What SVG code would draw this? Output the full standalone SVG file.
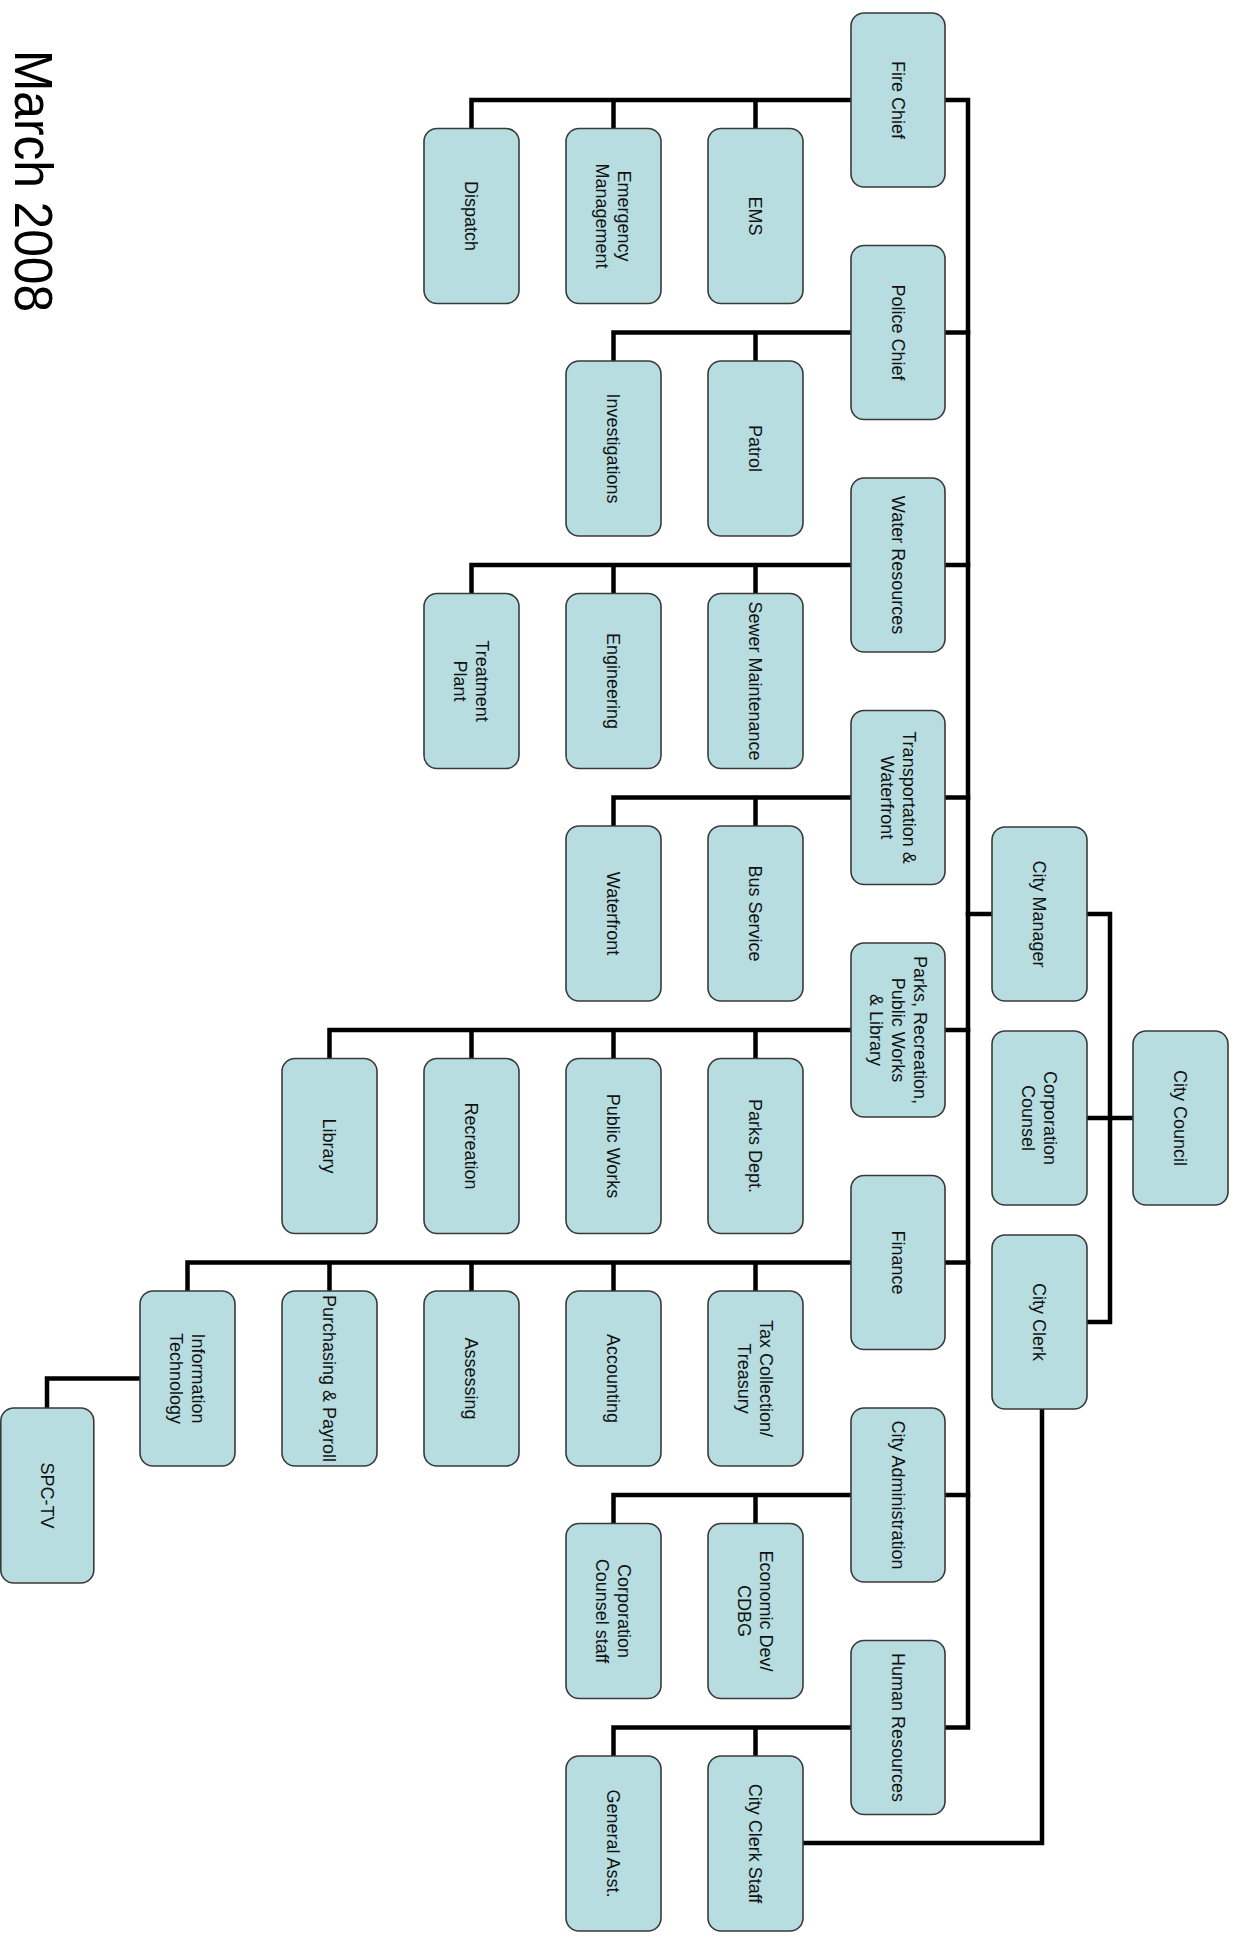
<svg xmlns="http://www.w3.org/2000/svg" width="1237" height="1948" viewBox="0 0 1237 1948">
<style>
.box{fill:#b7dde0;stroke:#3a3a3a;stroke-width:1.6}
.t{font-family:"Liberation Sans",Arial,sans-serif;font-size:18px;text-anchor:middle;fill:#111}
.ln{fill:none;stroke:#000;stroke-width:4.5;stroke-linejoin:miter;stroke-linecap:square}
.title{font-family:"Liberation Sans",Arial,sans-serif;font-size:54px;fill:#000}
</style>
<rect width="1237" height="1948" fill="#fff"/>
<text class="title" transform="translate(15,50) rotate(90)" textLength="262" lengthAdjust="spacingAndGlyphs">March 2008</text>

<g id="connectors">
<path class="ln" d="M945,100 H968 V1727.5 H945"/>
<path class="ln" d="M945,332.5 H968 M945,565 H968 M945,797.5 H968 M945,1030 H968 M945,1262.5 H968 M945,1495 H968"/>
<path class="ln" d="M992,914 H968"/>
<path class="ln" d="M1087,914 H1110 V1322 H1087 M1087,1118 H1133"/>
<path class="ln" d="M1042,1410 V1843 H803"/>
<!-- Fire -->
<path class="ln" d="M851,100 H471.5 M755.5,100 V128.5 M613.5,100 V128.5 M471.5,100 V128.5"/>
<!-- Police -->
<path class="ln" d="M851,332.5 H613.5 M755.5,332.5 V361 M613.5,332.5 V361"/>
<!-- Water -->
<path class="ln" d="M851,565 H471.5 M755.5,565 V593.5 M613.5,565 V593.5 M471.5,565 V593.5"/>
<!-- Transport -->
<path class="ln" d="M851,797.5 H613.5 M755.5,797.5 V826 M613.5,797.5 V826"/>
<!-- Parks -->
<path class="ln" d="M851,1030 H329.5 M755.5,1030 V1058.5 M613.5,1030 V1058.5 M471.5,1030 V1058.5 M329.5,1030 V1058.5"/>
<!-- Finance -->
<path class="ln" d="M851,1262.5 H187.5 M755.5,1262.5 V1291 M613.5,1262.5 V1291 M471.5,1262.5 V1291 M329.5,1262.5 V1291 M187.5,1262.5 V1291"/>
<path class="ln" d="M140,1378.5 H47 V1408"/>
<!-- City Admin -->
<path class="ln" d="M851,1495 H613.5 M755.5,1495 V1523.5 M613.5,1495 V1523.5"/>
<!-- HR -->
<path class="ln" d="M851,1727.5 H613.5 M755.5,1727.5 V1756 M613.5,1727.5 V1756"/>
</g>

<!-- Top column -->
<g id="city-council"><rect class="box" x="1133" y="1031" width="95" height="174" rx="13"/><text class="t" transform="translate(1180.5,1118) rotate(90)"><tspan x="0" y="6.3">City Council</tspan></text></g>
<g id="city-manager"><rect class="box" x="992" y="827" width="95" height="174" rx="13"/><text class="t" transform="translate(1039.5,914) rotate(90)"><tspan x="0" y="6.3">City Manager</tspan></text></g>
<g id="corporation-counsel"><rect class="box" x="992" y="1031" width="95" height="174" rx="13"/><text class="t" transform="translate(1039.5,1118) rotate(90)"><tspan x="0" y="-4.7">Corporation</tspan><tspan x="0" y="17.3">Counsel</tspan></text></g>
<g id="city-clerk"><rect class="box" x="992" y="1235" width="95" height="174" rx="13"/><text class="t" transform="translate(1039.5,1322) rotate(90)"><tspan x="0" y="6.3">City Clerk</tspan></text></g>

<!-- Department heads -->
<g id="fire-chief"><rect class="box" x="851" y="13" width="94" height="174" rx="13"/><text class="t" transform="translate(898,100) rotate(90)"><tspan x="0" y="6.3">Fire Chief</tspan></text></g>
<g id="police-chief"><rect class="box" x="851" y="245.5" width="94" height="174" rx="13"/><text class="t" transform="translate(898,332.5) rotate(90)"><tspan x="0" y="6.3">Police Chief</tspan></text></g>
<g id="water-resources"><rect class="box" x="851" y="478" width="94" height="174" rx="13"/><text class="t" transform="translate(898,565) rotate(90)"><tspan x="0" y="6.3">Water Resources</tspan></text></g>
<g id="transportation"><rect class="box" x="851" y="710.5" width="94" height="174" rx="13"/><text class="t" transform="translate(898,797.5) rotate(90)"><tspan x="0" y="-4.7">Transportation &amp;</tspan><tspan x="0" y="17.3">Waterfront</tspan></text></g>
<g id="parks-head"><rect class="box" x="851" y="943" width="94" height="174" rx="13"/><text class="t" transform="translate(898,1030) rotate(90)"><tspan x="0" y="-15.7">Parks, Recreation,</tspan><tspan x="0" y="6.3">Public Works</tspan><tspan x="0" y="28.3">&amp; Library</tspan></text></g>
<g id="finance"><rect class="box" x="851" y="1175.5" width="94" height="174" rx="13"/><text class="t" transform="translate(898,1262.5) rotate(90)"><tspan x="0" y="6.3">Finance</tspan></text></g>
<g id="city-administration"><rect class="box" x="851" y="1408" width="94" height="174" rx="13"/><text class="t" transform="translate(898,1495) rotate(90)"><tspan x="0" y="6.3">City Administration</tspan></text></g>
<g id="human-resources"><rect class="box" x="851" y="1640.5" width="94" height="174" rx="13"/><text class="t" transform="translate(898,1727.5) rotate(90)"><tspan x="0" y="6.3">Human Resources</tspan></text></g>

<!-- Fire children -->
<g id="ems"><rect class="box" x="708" y="128.5" width="95" height="175" rx="13"/><text class="t" transform="translate(755.5,216) rotate(90)"><tspan x="0" y="6.3">EMS</tspan></text></g>
<g id="emergency-management"><rect class="box" x="566" y="128.5" width="95" height="175" rx="13"/><text class="t" transform="translate(613.5,216) rotate(90)"><tspan x="0" y="-4.7">Emergency</tspan><tspan x="0" y="17.3">Management</tspan></text></g>
<g id="dispatch"><rect class="box" x="424" y="128.5" width="95" height="175" rx="13"/><text class="t" transform="translate(471.5,216) rotate(90)"><tspan x="0" y="6.3">Dispatch</tspan></text></g>

<!-- Police children -->
<g id="patrol"><rect class="box" x="708" y="361" width="95" height="175" rx="13"/><text class="t" transform="translate(755.5,448.5) rotate(90)"><tspan x="0" y="6.3">Patrol</tspan></text></g>
<g id="investigations"><rect class="box" x="566" y="361" width="95" height="175" rx="13"/><text class="t" transform="translate(613.5,448.5) rotate(90)"><tspan x="0" y="6.3">Investigations</tspan></text></g>

<!-- Water children -->
<g id="sewer-maintenance"><rect class="box" x="708" y="593.5" width="95" height="175" rx="13"/><text class="t" transform="translate(755.5,681) rotate(90)"><tspan x="0" y="6.3">Sewer Maintenance</tspan></text></g>
<g id="engineering"><rect class="box" x="566" y="593.5" width="95" height="175" rx="13"/><text class="t" transform="translate(613.5,681) rotate(90)"><tspan x="0" y="6.3">Engineering</tspan></text></g>
<g id="treatment-plant"><rect class="box" x="424" y="593.5" width="95" height="175" rx="13"/><text class="t" transform="translate(471.5,681) rotate(90)"><tspan x="0" y="-4.7">Treatment</tspan><tspan x="0" y="17.3">Plant</tspan></text></g>

<!-- Transportation children -->
<g id="bus-service"><rect class="box" x="708" y="826" width="95" height="175" rx="13"/><text class="t" transform="translate(755.5,913.5) rotate(90)"><tspan x="0" y="6.3">Bus Service</tspan></text></g>
<g id="waterfront"><rect class="box" x="566" y="826" width="95" height="175" rx="13"/><text class="t" transform="translate(613.5,913.5) rotate(90)"><tspan x="0" y="6.3">Waterfront</tspan></text></g>

<!-- Parks children -->
<g id="parks-dept"><rect class="box" x="708" y="1058.5" width="95" height="175" rx="13"/><text class="t" transform="translate(755.5,1146) rotate(90)"><tspan x="0" y="6.3">Parks Dept.</tspan></text></g>
<g id="public-works"><rect class="box" x="566" y="1058.5" width="95" height="175" rx="13"/><text class="t" transform="translate(613.5,1146) rotate(90)"><tspan x="0" y="6.3">Public Works</tspan></text></g>
<g id="recreation"><rect class="box" x="424" y="1058.5" width="95" height="175" rx="13"/><text class="t" transform="translate(471.5,1146) rotate(90)"><tspan x="0" y="6.3">Recreation</tspan></text></g>
<g id="library"><rect class="box" x="282" y="1058.5" width="95" height="175" rx="13"/><text class="t" transform="translate(329.5,1146) rotate(90)"><tspan x="0" y="6.3">Library</tspan></text></g>

<!-- Finance children -->
<g id="tax-collection"><rect class="box" x="708" y="1291" width="95" height="175" rx="13"/><text class="t" transform="translate(755.5,1378.5) rotate(90)"><tspan x="0" y="-4.7">Tax Collection/</tspan><tspan x="0" y="17.3">Treasury</tspan></text></g>
<g id="accounting"><rect class="box" x="566" y="1291" width="95" height="175" rx="13"/><text class="t" transform="translate(613.5,1378.5) rotate(90)"><tspan x="0" y="6.3">Accounting</tspan></text></g>
<g id="assessing"><rect class="box" x="424" y="1291" width="95" height="175" rx="13"/><text class="t" transform="translate(471.5,1378.5) rotate(90)"><tspan x="0" y="6.3">Assessing</tspan></text></g>
<g id="purchasing-payroll"><rect class="box" x="282" y="1291" width="95" height="175" rx="13"/><text class="t" transform="translate(329.5,1378.5) rotate(90)"><tspan x="0" y="6.3">Purchasing &amp; Payroll</tspan></text></g>
<g id="information-technology"><rect class="box" x="140" y="1291" width="95" height="175" rx="13"/><text class="t" transform="translate(187.5,1378.5) rotate(90)"><tspan x="0" y="-4.7">Information</tspan><tspan x="0" y="17.3">Technology</tspan></text></g>
<g id="spc-tv"><rect class="box" x="0.8" y="1408" width="93" height="175" rx="13"/><text class="t" transform="translate(47,1495.5) rotate(90)"><tspan x="0" y="6.3">SPC-TV</tspan></text></g>

<!-- City Administration children -->
<g id="economic-dev"><rect class="box" x="708" y="1523.5" width="95" height="175" rx="13"/><text class="t" transform="translate(755.5,1611) rotate(90)"><tspan x="0" y="-4.7">Economic Dev/</tspan><tspan x="0" y="17.3">CDBG</tspan></text></g>
<g id="corporation-counsel-staff"><rect class="box" x="566" y="1523.5" width="95" height="175" rx="13"/><text class="t" transform="translate(613.5,1611) rotate(90)"><tspan x="0" y="-4.7">Corporation</tspan><tspan x="0" y="17.3">Counsel staff</tspan></text></g>

<!-- HR children -->
<g id="city-clerk-staff"><rect class="box" x="708" y="1756" width="95" height="175" rx="13"/><text class="t" transform="translate(755.5,1843.5) rotate(90)"><tspan x="0" y="6.3">City Clerk Staff</tspan></text></g>
<g id="general-asst"><rect class="box" x="566" y="1756" width="95" height="175" rx="13"/><text class="t" transform="translate(613.5,1843.5) rotate(90)"><tspan x="0" y="6.3">General Asst.</tspan></text></g>
</svg>
